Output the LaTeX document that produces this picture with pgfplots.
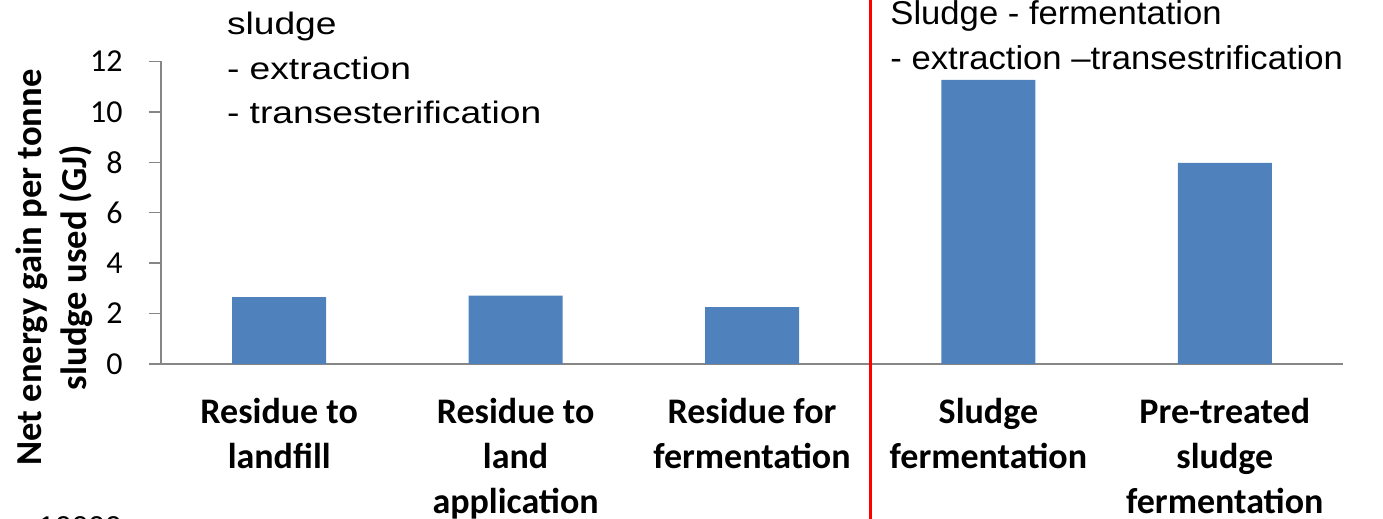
\documentclass[border=0pt]{standalone}
\usepackage{pgfplots}
\pgfplotsset{compat=1.18}
\usepackage{fontspec}
\setmainfont{Liberation Sans}
\newfontfamily\calibri{Carlito}
\newfontfamily\notewide{Liberation Sans}[FakeStretch=1.2]
\newfontfamily\note{Liberation Sans}[FakeStretch=1.05]
\definecolor{barblue}{HTML}{4F81BD}
\definecolor{axisgray}{HTML}{868686}

\begin{document}
\begin{tikzpicture}
\path[use as bounding box] (0,0) rectangle (691.5pt,259.5pt);
\clip (0,0) rectangle (691.5pt,259.5pt);
\begin{axis}[
  at={(80.5pt,77.5pt)}, anchor=south west,
  width=591pt, height=151.25pt, scale only axis,
  xmin=0.5, xmax=5.5, ymin=0, ymax=12,
  axis lines*=left,
  axis line style={axisgray, line width=0.75pt},
  ytick={0,2,...,12},
  xtick={1,...,5},
  xticklabels={Residue to\\landfill, Residue to\\land\\application,
    Residue for\\fermentation, Sludge\\fermentation,
    Pre-treated\\sludge\\fermentation},
  x tick style={draw=none},
  y tick style={axisgray, line width=0.75pt},
  major tick length=6pt,
  tick align=outside,
  /pgf/number format/assume math mode=true,
  yticklabel style={font={\calibri\fontsize{16}{18}\selectfont}, inner sep=0pt, xshift=-13pt},
  xticklabel style={font={\calibri\bfseries\fontsize{18}{22.5}\selectfont},
    align=center, anchor=north, inner sep=0pt, yshift=-11pt},
  clip=false,
]
\addplot[ybar, fill=barblue, draw=none, bar width=47pt]
  coordinates {(1,2.65) (2,2.71) (3,2.26) (4,11.27) (5,7.98)};
\draw[red, line width=1.5pt] (axis cs:3.5,-8) -- (axis cs:3.5,16);
\end{axis}

% process annotations
\begin{scope}[every node/.style={anchor=base west, inner sep=0pt}]
\node[font={\notewide\fontsize{15.5}{18}\selectfont}] at (113.3pt,242pt) {sludge};
\node[font={\notewide\fontsize{15.5}{18}\selectfont}] at (113.3pt,219.5pt) {- extraction};
\node[font={\notewide\fontsize{15.5}{18}\selectfont}] at (113.3pt,197.5pt) {- transesterification};
\node[font={\note\fontsize{16.5}{18}\selectfont}] at (445pt,247pt) {Sludge - fermentation};
\node[font={\note\fontsize{16.5}{18}\selectfont}] at (445pt,224.5pt) {- extraction –transestrification};
\node[font=\fontsize{15}{18}\selectfont] at (19pt,-9.25pt) {10000};
\end{scope}

% axis title
\node[rotate=90, align=center, inner sep=0pt,
  font={\calibri\bfseries\fontsize{18.3}{22.5}\selectfont}]
  at (27.2pt,125.75pt) {Net energy gain per tonne\\sludge used (GJ)};
\end{tikzpicture}
\end{document}
